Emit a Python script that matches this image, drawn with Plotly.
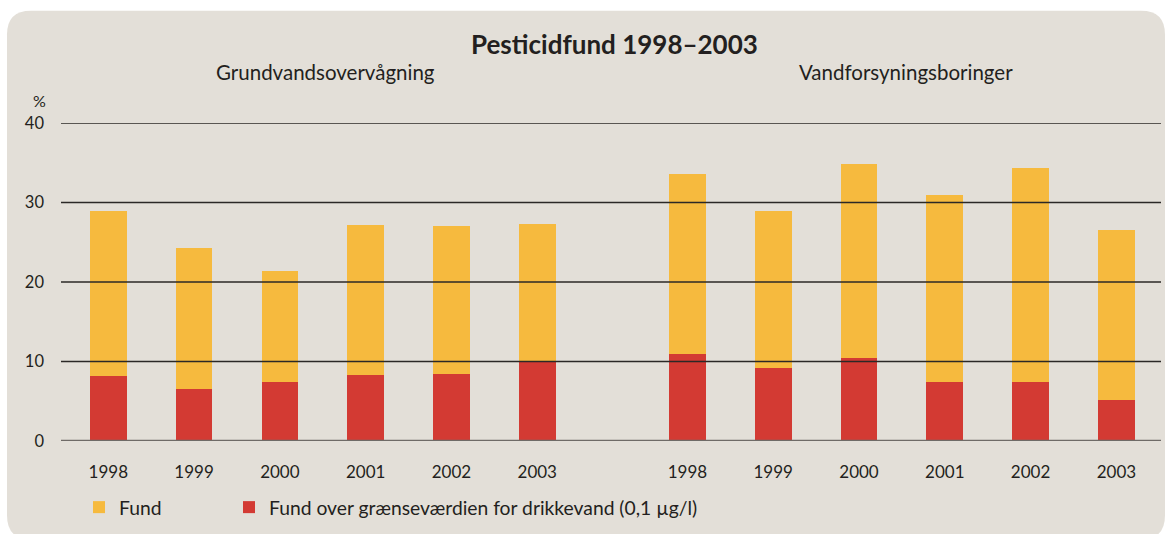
import plotly.graph_objects as go

# ---- data ----
years = ["1998", "1999", "2000", "2001", "2002", "2003"]
grund_fund = [28.9, 24.3, 21.4, 27.2, 27.0, 27.3]
grund_over = [8.2, 6.5, 7.4, 8.3, 8.45, 10.0]
vand_fund = [33.6, 28.9, 34.9, 30.9, 34.4, 26.5]
vand_over = [10.9, 9.2, 10.4, 7.4, 7.4, 5.2]
y_ticks = [0, 10, 20, 30, 40]

title_text = "Pesticidfund 1998\u20132003"
group_titles = ["Grundvandsoverv\u00e5gning", "Vandforsyningsboringer"]
legend_names = ["Fund", "Fund over gr\u00e6nsev\u00e6rdien for drikkevand (0,1 \u00b5g/l)"]

# ---- layout helpers ----
W, H = 1168, 534
L, R, T, B = 61, 7, 123, 91
PW, PH = W - L - R, H - T - B
group_gap = 6.75
x_left = [i for i in range(len(years))]
x_right = [i + group_gap for i in range(len(years))]
xs = x_left + x_right
ticktext = years + years

YELLOW = "#F6BA3E"
RED = "#D33A33"
BG = "#E3DFD8"
TXT = "#231F20"
FONT = "Lato"


def px2paper_x(p):
    return (p - L) / PW


def px2paper_y(p):
    return (H - B - p) / PH


fig = go.Figure()
fig.add_trace(go.Bar(x=xs, y=grund_fund + vand_fund, name=legend_names[0],
                     marker=dict(color=YELLOW, line=dict(width=0)), width=0.428,
                     legend="legend"))
fig.add_trace(go.Bar(x=xs, y=grund_over + vand_over, name=legend_names[1],
                     marker=dict(color=RED, line=dict(width=0)), width=0.428,
                     legend="legend2"))

# background panel with rounded corners
x0, x1, y0, y1, r = 7, 1165, 10, 542, 24
rx, ry = r / PW, r / PH
X0, X1 = px2paper_x(x0), px2paper_x(x1)
Y0, Y1 = px2paper_y(y1), px2paper_y(y0)  # bottom, top (paper)
path = (f"M{X0+rx},{Y1} L{X1-rx},{Y1} Q{X1},{Y1} {X1},{Y1-ry} "
        f"L{X1},{Y0+ry} Q{X1},{Y0} {X1-rx},{Y0} L{X0+rx},{Y0} "
        f"Q{X0},{Y0} {X0},{Y0+ry} L{X0},{Y1-ry} Q{X0},{Y1} {X0+rx},{Y1} Z")
shapes = [dict(type="path", path=path, xref="paper", yref="paper",
               fillcolor=BG, line=dict(width=0), layer="below")]
for v in y_ticks:
    if v == 0:
        shapes.append(dict(type="line", xref="paper", yref="y", x0=0, x1=1, y0=v, y1=v,
                           line=dict(color="#6F6B67", width=2.5), layer="above"))
    else:
        shapes.append(dict(type="line", xref="paper", yref="y", x0=0, x1=1, y0=v, y1=v,
                           line=dict(color="#2B2826", width=1.4), layer="above"))

annotations = [
    dict(text=f"<b>{title_text}</b>", xref="paper", yref="paper",
         x=px2paper_x(614.5), y=px2paper_y(43), xanchor="center", yanchor="middle",
         showarrow=False, font=dict(family=FONT, size=26, color=TXT)),
    dict(text=group_titles[0], xref="paper", yref="paper",
         x=px2paper_x(325.5), y=px2paper_y(72), xanchor="center", yanchor="middle",
         showarrow=False, font=dict(family=FONT, size=20.5, color=TXT)),
    dict(text=group_titles[1], xref="paper", yref="paper",
         x=px2paper_x(905.5), y=px2paper_y(72), xanchor="center", yanchor="middle",
         showarrow=False, font=dict(family=FONT, size=20.5, color=TXT)),
    dict(text="%", xref="paper", yref="paper",
         x=px2paper_x(39), y=px2paper_y(100), xanchor="center", yanchor="middle",
         showarrow=False, font=dict(family=FONT, size=16, color=TXT)),
]

legend_common = dict(orientation="h", yanchor="middle", xanchor="left",
                     bgcolor="rgba(0,0,0,0)",
                     font=dict(family=FONT, size=19.3, color=TXT),
                     itemclick=False, itemdoubleclick=False)

fig.update_layout(
    width=W, height=H,
    margin=dict(l=L, r=R, t=T, b=B, pad=0),
    paper_bgcolor="white", plot_bgcolor="rgba(0,0,0,0)",
    barmode="overlay", bargap=0,
    shapes=shapes, annotations=annotations,
    font=dict(family=FONT, color=TXT),
    showlegend=True,
    legend=dict(x=px2paper_x(79), y=px2paper_y(510), **legend_common),
    legend2=dict(x=px2paper_x(229), y=px2paper_y(510), **legend_common),
    xaxis=dict(range=[-0.551, 12.27], tickmode="array", tickvals=xs, ticktext=ticktext,
               showgrid=False, zeroline=False, showline=False, ticks="",
               ticklabelstandoff=19, tickfont=dict(family=FONT, size=17, color=TXT),
               fixedrange=True),
    yaxis=dict(range=[0, 40], tickmode="array", tickvals=y_ticks,
               showgrid=False, zeroline=False, showline=False, ticks="",
               ticklabelstandoff=16, tickfont=dict(family=FONT, size=16.5, color=TXT),
               fixedrange=True),
)

fig.write_html(
    "out.html",
    config={"displayModeBar": False},
    post_script="document.body.style.margin='0';document.body.style.overflow='hidden';"
                "document.documentElement.style.overflow='hidden';",
)
